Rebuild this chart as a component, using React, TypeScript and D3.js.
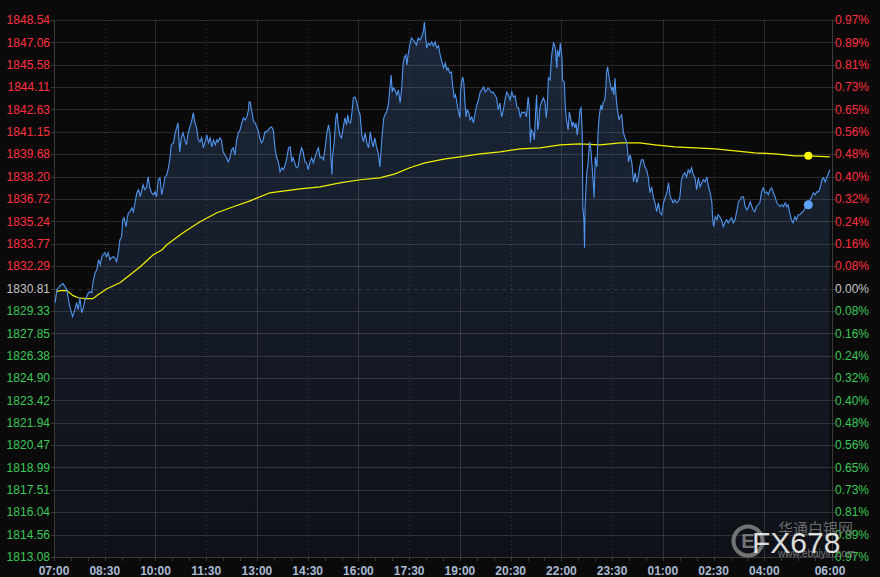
import React from "react";
import * as d3 from "d3";

// ---- data ----
const prevClose = 1830.81;
const priceMin = 1813.08;
const priceMax = 1848.54;
const sessionMinutes = 1380; // 07:00 -> 06:00

const leftTickLabels = [
  "1848.54", "1847.06", "1845.58", "1844.11", "1842.63", "1841.15", "1839.68",
  "1838.20", "1836.72", "1835.24", "1833.77", "1832.29", "1830.81", "1829.33",
  "1827.85", "1826.38", "1824.90", "1823.42", "1821.94", "1820.47", "1818.99",
  "1817.51", "1816.04", "1814.56", "1813.08",
];
const rightTickLabels = [
  "0.97%", "0.89%", "0.81%", "0.73%", "0.65%", "0.56%", "0.48%", "0.40%",
  "0.32%", "0.24%", "0.16%", "0.08%", "0.00%", "0.08%", "0.16%", "0.24%",
  "0.32%", "0.40%", "0.48%", "0.56%", "0.65%", "0.73%", "0.81%", "0.89%", "0.97%",
];
const timeTickLabels = [
  "07:00", "08:30", "10:00", "11:30", "13:00", "14:30", "16:00", "17:30",
  "19:00", "20:30", "22:00", "23:30", "01:00", "02:30", "04:00", "06:00",
];
const timeTickMinutes = [0, 90, 180, 270, 360, 450, 540, 630, 720, 810, 900, 990, 1080, 1170, 1260, 1380];
const solidGridMinutes = [180, 360, 540, 720, 900, 1080, 1260];
const dottedGridMinutes = [90, 270, 450, 630, 810, 990, 1170];

// [minutes since 07:00, price]
const priceSeries: [number, number][] = [
  [2,1829.87],[5,1830.73],[8,1830.86],[11,1830.99],[16,1831.13],[23,1830.73],[25,1830.20],[28,1829.61],[33,1828.95],[37,1829.41],
  [40,1829.87],[43,1829.41],[46,1830.20],[49,1829.21],[52,1829.54],[55,1830.07],[58,1830.27],[61,1830.53],[64,1830.60],[67,1830.53],
  [69,1831.19],[73,1831.85],[76,1832.05],[79,1832.71],[82,1832.38],[85,1832.91],[87,1833.04],[90,1833.17],[93,1832.91],[96,1833.17],
  [99,1832.71],[102,1832.84],[105,1832.91],[108,1832.84],[111,1832.58],[114,1833.17],[117,1834.03],[120,1834.23],[122,1835.35],[124,1835.48],
  [128,1834.89],[130,1835.48],[132,1835.81],[135,1835.88],[138,1836.14],[141,1835.88],[144,1836.54],[147,1837.13],[150,1837.33],[153,1836.87],
  [156,1837.33],[158,1837.66],[161,1837.33],[164,1837.46],[167,1838.18],[170,1837.46],[173,1837.13],[176,1837.00],[179,1837.19],[182,1836.87],
  [185,1837.99],[188,1838.12],[191,1837.00],[194,1837.52],[197,1838.18],[200,1838.32],[203,1838.78],[206,1839.50],[208,1840.30],[212,1840.43],
  [215,1841.09],[218,1841.48],[220,1841.75],[223,1839.83],[226,1840.82],[229,1841.09],[232,1840.62],[235,1840.30],[238,1841.09],[241,1841.48],
  [244,1841.81],[247,1842.41],[250,1841.75],[253,1841.42],[256,1840.62],[259,1840.49],[262,1840.76],[265,1840.10],[268,1840.49],[271,1840.95],
  [274,1840.43],[277,1840.76],[280,1840.16],[283,1840.62],[286,1840.30],[289,1840.62],[291,1840.49],[294,1840.76],[297,1840.62],[300,1839.83],
  [303,1839.64],[306,1839.44],[309,1839.17],[312,1839.44],[315,1839.97],[318,1840.10],[321,1839.64],[324,1840.62],[327,1841.09],[330,1841.28],
  [333,1841.75],[336,1842.08],[339,1841.94],[342,1842.14],[345,1842.60],[346,1843.13],
  [348,1843.13],[351,1842.47],[354,1841.81],[357,1841.75],[360,1841.42],[362,1841.28],[365,1840.76],[368,1840.43],[371,1840.62],[374,1841.15],
  [377,1841.15],[380,1841.28],[383,1841.42],[386,1841.48],[389,1841.28],[392,1840.10],[395,1839.44],[398,1839.17],[401,1838.51],[404,1838.78],
  [407,1838.65],[410,1838.98],[413,1839.44],[416,1840.10],[419,1840.16],[422,1839.17],[424,1839.44],[427,1839.11],[430,1838.78],[433,1838.84],
  [436,1839.64],[439,1840.10],[442,1839.83],[445,1839.17],[448,1839.11],[451,1838.65],[454,1839.17],[457,1839.44],[460,1839.11],[463,1839.50],
  [466,1839.83],[469,1840.10],[472,1839.44],[475,1839.50],[478,1839.31],[481,1840.10],[484,1841.09],[487,1841.61],[490,1840.95],[491,1839.44],
  [493,1838.32],[494,1839.44],[497,1840.49],[500,1842.08],[502,1842.41],[504,1841.61],[507,1840.95],[510,1840.76],[513,1841.42],[516,1842.08],
  [519,1841.61],[521,1842.27],[523,1841.81],[526,1841.75],[528,1842.27],[531,1843.40],[534,1843.46],[537,1843.13],[540,1842.60],[543,1842.27],
  [546,1840.95],[549,1840.49],[552,1841.09],[555,1840.43],[558,1840.10],[561,1841.15],[564,1840.49],[566,1840.16],[569,1840.76],[572,1840.16],
  [575,1839.77],[577,1839.17],[578,1838.84],[580,1839.83],[582,1840.95],[585,1842.08],[587,1842.27],[590,1842.47],[593,1842.93],[596,1844.12],
  [598,1844.91],[600,1843.79],[602,1844.05],[605,1843.92],[608,1843.59],[611,1843.92],[614,1843.07],[617,1844.12],[619,1845.57],[621,1846.03],
  [624,1846.23],[626,1845.57],[628,1846.23],[631,1846.89],[634,1847.35],[637,1847.22],[640,1847.09],[643,1846.89],[646,1847.35],[649,1847.22],
  [652,1847.42],[655,1847.75],[657,1848.41],[659,1847.55],[661,1846.69],[664,1847.02],[667,1846.89],[670,1847.09],[673,1846.83],[676,1847.09],
  [679,1846.69],[682,1846.83],[685,1846.23],[688,1845.77],[691,1845.37],[694,1845.70],
  [697,1845.24],[699,1845.37],[702,1845.04],[705,1845.11],[707,1844.25],[710,1843.40],[712,1843.59],[714,1843.26],[716,1842.74],[718,1842.41],
  [720,1842.08],[721,1843.79],[723,1844.45],[725,1844.78],[727,1844.38],[729,1843.07],[731,1842.14],[733,1842.60],[736,1842.41],[738,1841.94],
  [741,1842.14],[744,1841.75],[747,1842.41],[750,1842.93],[753,1843.26],[756,1843.79],[759,1843.92],[762,1844.12],[765,1843.79],[768,1843.92],
  [770,1844.05],[773,1843.92],[776,1843.73],[779,1843.79],[782,1843.59],[785,1843.40],[788,1842.60],[791,1843.07],[794,1842.14],[797,1842.60],
  [800,1843.26],[803,1843.79],[806,1843.59],[809,1843.26],[812,1843.79],[815,1843.46],[818,1843.53],[821,1842.80],[824,1842.74],[827,1842.14],
  [830,1842.47],[832,1842.41],[835,1842.47],[838,1842.14],[841,1843.46],[843,1842.80],[845,1840.43],[847,1841.28],[850,1841.09],[852,1840.62],
  [854,1842.27],[856,1843.59],[858,1841.28],[860,1841.75],[862,1842.80],[865,1843.13],[868,1843.40],[871,1843.13],[873,1842.08],[875,1842.80],
  [877,1844.71],[880,1844.58],[882,1845.90],[884,1846.56],[886,1847.02],[889,1846.76],[892,1845.37],[893,1846.56],[896,1846.10],[898,1847.02],
  [901,1846.03],[902,1844.58],[905,1844.45],[907,1842.80],[909,1841.94],[912,1841.28],[914,1842.47],[917,1841.94],[919,1841.48],[921,1841.81],
  [924,1841.42],[926,1841.75],[928,1840.95],[931,1841.81],[933,1842.60],[935,1842.74],[937,1841.09],[938,1836.21],[940,1835.35],[941,1833.50],
  [942,1836.21],[945,1838.45],[947,1838.98],[950,1840.49],[952,1840.10],[954,1839.11],[957,1837.52],[958,1836.80],[960,1839.50],[963,1838.84],
  [965,1841.09],[967,1842.14],[970,1842.93],[972,1842.60],[974,1843.07],[977,1843.26],[979,1844.12],[980,1845.04],[982,1845.44],[984,1844.91],
  [986,1844.45],[989,1843.92],[991,1844.12],[993,1843.59],[995,1844.71],[997,1843.46],[999,1842.74],[1002,1841.94],[1004,1842.14],[1007,1842.27],
  [1010,1841.09],[1013,1840.76],[1016,1840.43],[1018,1839.64],[1019,1839.17],[1022,1839.64],[1025,1839.11],[1028,1837.85],[1031,1838.45],
  [1034,1837.79],[1036,1838.12],[1039,1838.84],[1042,1839.31],[1045,1839.31],[1048,1838.84],[1051,1838.65],[1054,1838.18],[1057,1837.13],[1060,1837.52],
  [1063,1836.87],[1066,1836.47],[1069,1835.88],[1072,1836.47],[1075,1835.81],[1078,1835.68],[1081,1836.47],[1084,1836.80],[1087,1837.13],[1090,1837.79],
  [1093,1836.87],[1096,1836.67],[1098,1836.47],[1101,1836.67],[1104,1836.47],[1107,1836.54],[1110,1836.80],[1113,1837.99],[1116,1838.32],[1119,1838.45],
  [1122,1838.18],[1125,1838.65],[1128,1838.45],[1131,1838.78],[1134,1838.32],[1137,1838.12],[1140,1837.33],[1143,1838.12],[1146,1837.52],[1149,1837.79],
  [1152,1837.99],[1155,1837.85],[1158,1838.18],[1161,1837.52],[1164,1837.13],[1167,1836.47],[1168,1835.55],[1170,1834.89],[1173,1835.55],[1176,1835.35],
  [1178,1835.68],[1181,1835.55],[1184,1835.35],[1187,1834.89],[1190,1835.15],[1193,1835.35],[1196,1835.15],[1199,1835.35],[1202,1835.48],[1205,1835.15],
  [1208,1835.35],[1211,1835.88],[1214,1836.54],[1217,1836.67],[1220,1836.87],[1223,1836.87],[1226,1836.21],[1229,1836.01],[1232,1836.21],[1235,1836.54],
  [1238,1836.21],[1240,1836.01],[1243,1835.88],[1246,1836.21],[1249,1836.34],[1252,1836.47],[1255,1837.19],[1258,1837.46],[1261,1837.13],[1264,1837.19],
  [1267,1837.00],[1270,1837.33],[1273,1837.46],[1276,1837.13],[1279,1836.87],[1282,1836.47],[1285,1836.34],[1288,1836.21],[1291,1836.34],[1294,1836.21],
  [1297,1836.47],[1300,1836.21],[1302,1836.34],[1305,1835.81],[1308,1835.35],[1311,1835.15],[1314,1835.55],[1317,1835.35],[1320,1835.68],[1323,1835.68],
  [1326,1835.81],[1329,1835.88],[1332,1836.14],[1335,1836.27],[1338,1836.34],[1341,1836.67],[1344,1836.87],[1347,1837.13],[1350,1837.00],[1353,1837.19],
  [1356,1837.19],[1359,1837.46],[1362,1837.99],[1365,1838.12],[1368,1837.85],[1371,1838.18],[1373,1838.32],[1376,1838.65],
];

// [minutes since 07:00, average price]
const averageSeries: [number, number][] = [
  [4,1830.60],[11,1830.67],[23,1830.67],[34,1830.34],[43,1830.20],[55,1830.14],[69,1830.14],[78,1830.40],[94,1830.80],[117,1831.19],
  [135,1831.72],[153,1832.25],[176,1833.04],[192,1833.37],[200,1833.70],[229,1834.49],[259,1835.22],[289,1835.81],[318,1836.21],[348,1836.60],
  [383,1837.13],[436,1837.39],[472,1837.52],[507,1837.79],[543,1837.99],[578,1838.12],[605,1838.38],[631,1838.78],[658,1839.11],[694,1839.37],
  [720,1839.50],[756,1839.70],[791,1839.83],[827,1840.03],[862,1840.10],[898,1840.30],[933,1840.36],[969,1840.30],[1004,1840.43],[1039,1840.43],
  [1066,1840.30],[1101,1840.16],[1137,1840.10],[1173,1840.03],[1208,1839.90],[1243,1839.77],[1279,1839.70],[1314,1839.57],[1338,1839.57],[1376,1839.50],
];
const markerMinute = 1338;

// ---- layout ----
const W = 880;
const H = 577;
const left = 54;
const right = 832;
const top = 20;
const bottom = 557;

const RED = "#ff3040";
const GREEN = "#3cc858";
const NEUTRAL = "#c4c4c4";
const FONT = "'Liberation Sans', Arial, sans-serif";

export default function App() {
  const x = d3.scaleLinear().domain([0, sessionMinutes]).range([left, right]);
  const y = d3.scaleLinear().domain([priceMin, priceMax]).range([bottom, top]);

  const tickValues = leftTickLabels.map((s) => parseFloat(s));
  const colorFor = (i: number) => (i < 12 ? RED : i === 12 ? NEUTRAL : GREEN);

  const line = d3
    .line<[number, number]>()
    .x((d) => x(d[0]))
    .y((d) => y(d[1]));
  const area = d3
    .area<[number, number]>()
    .x((d) => x(d[0]))
    .y0(bottom)
    .y1((d) => y(d[1]));

  const markerPrice = priceSeries.find((d) => d[0] === markerMinute)!;
  const markerAvg = averageSeries.find((d) => d[0] === markerMinute)!;
  const minorMinutes = d3.range(30, sessionMinutes, 30);

  return (
    <svg
      width={W}
      height={H}
      style={{ position: "absolute", left: 0, top: 0, display: "block", background: "#0a0a0a" }}
    >
      <defs>
        <linearGradient id="fill" x1="0" y1={top} x2="0" y2={bottom} gradientUnits="userSpaceOnUse">
          <stop offset="0" stopColor="#1c2739" />
          <stop offset="1" stopColor="#0e1117" />
        </linearGradient>
      </defs>
      <rect x={0} y={0} width={W} height={H} fill="#0a0a0a" />

      {/* area under price */}
      <path d={area(priceSeries) || ""} fill="url(#fill)" />

      {/* horizontal grid */}
      {tickValues.map((v, i) =>
        i === 12 ? (
          <line key={i} x1={left} x2={right} y1={Math.round(y(v)) + 0.5} y2={Math.round(y(v)) + 0.5}
            stroke="rgba(150,165,190,0.22)" strokeDasharray="4,4" />
        ) : (
          <line key={i} x1={left} x2={right} y1={Math.round(y(v)) + 0.5} y2={Math.round(y(v)) + 0.5}
            stroke="rgba(255,255,255,0.13)" />
        )
      )}
      {/* vertical grid */}
      {solidGridMinutes.map((m) => (
        <line key={"s" + m} x1={Math.round(x(m)) + 0.5} x2={Math.round(x(m)) + 0.5} y1={top} y2={bottom}
          stroke="rgba(255,255,255,0.13)" />
      ))}
      {dottedGridMinutes.map((m) => (
        <line key={"d" + m} x1={Math.round(x(m)) + 0.5} x2={Math.round(x(m)) + 0.5} y1={top} y2={bottom}
          stroke="rgba(255,255,255,0.16)" strokeDasharray="1,3" />
      ))}

      {/* axes frame */}
      <line x1={left + 0.5} x2={left + 0.5} y1={top} y2={bottom + 4} stroke="#3a3a3a" />
      <line x1={right + 0.5} x2={right + 0.5} y1={top} y2={bottom + 4} stroke="#3a3a3a" />
      <line x1={left} x2={right + 1} y1={bottom + 0.5} y2={bottom + 0.5} stroke="#3a3a3a" />
      {minorMinutes.map((m) => (
        <line key={"m" + m} x1={Math.round(x(m)) + 0.5} x2={Math.round(x(m)) + 0.5} y1={bottom} y2={bottom + 4} stroke="#3a3a3a" />
      ))}
      {tickValues.map((v, i) => (
        <g key={"t" + i}>
          <line x1={left - 3} x2={left} y1={Math.round(y(v)) + 0.5} y2={Math.round(y(v)) + 0.5} stroke="#3a3a3a" />
          <line x1={right} x2={right + 3} y1={Math.round(y(v)) + 0.5} y2={Math.round(y(v)) + 0.5} stroke="#3a3a3a" />
        </g>
      ))}

      {/* average line */}
      <path d={line(averageSeries) || ""} fill="none" stroke="#f0f000" strokeWidth={1.2} />
      {/* price line */}
      <path d={line(priceSeries) || ""} fill="none" stroke="#4f95ef" strokeWidth={1.1} />

      {/* markers */}
      <circle cx={x(markerAvg[0])} cy={y(markerAvg[1])} r={4} fill="#ffff00" />
      <circle cx={x(markerPrice[0])} cy={y(markerPrice[1])} r={4.5} fill="#5ea2f7" />

      {/* left labels */}
      {leftTickLabels.map((s, i) => (
        <text key={"l" + i} x={50} y={y(tickValues[i])} dy="0.35em" textAnchor="end"
          fontFamily={FONT} fontSize={12} fill={colorFor(i)}>
          {s}
        </text>
      ))}
      {/* right labels */}
      {rightTickLabels.map((s, i) => (
        <text key={"r" + i} x={835} y={y(tickValues[i])} dy="0.35em" textAnchor="start"
          fontFamily={FONT} fontSize={12} fill={colorFor(i)}>
          {s}
        </text>
      ))}
      {/* time labels */}
      {timeTickLabels.map((s, i) => (
        <text key={"x" + i} x={x(timeTickMinutes[i]) - (i === timeTickLabels.length - 1 ? 2 : 0)} y={575}
          textAnchor="middle" fontFamily={FONT} fontSize={12} fontWeight="bold" fill="#a9bbd2">
          {s}
        </text>
      ))}

      {/* watermark */}
      <g>
        <circle cx={748} cy={541} r={14.5} fill="none" stroke="#8c8c8c" strokeWidth={4} opacity={0.8} />
        <text x={748} y={548} textAnchor="middle" fontFamily={FONT} fontSize={20} fontWeight="bold" fill="#8c8c8c" opacity={0.8}>E</text>
        <text x={778} y={534} fontFamily="'Noto Sans CJK SC', sans-serif" fontSize={15} fill="#7a7a7a" opacity={0.85}>华通白银网</text>
        <text x={778} y={557} fontFamily={FONT} fontSize={10} fill="#8a8a8a" opacity={0.85}>www.ebaiyin.com</text>
        <text x={752} y={553} fontFamily={FONT} fontSize={30} fill="#f2f2f2" opacity={0.9}>FX678</text>
      </g>
    </svg>
  );
}
